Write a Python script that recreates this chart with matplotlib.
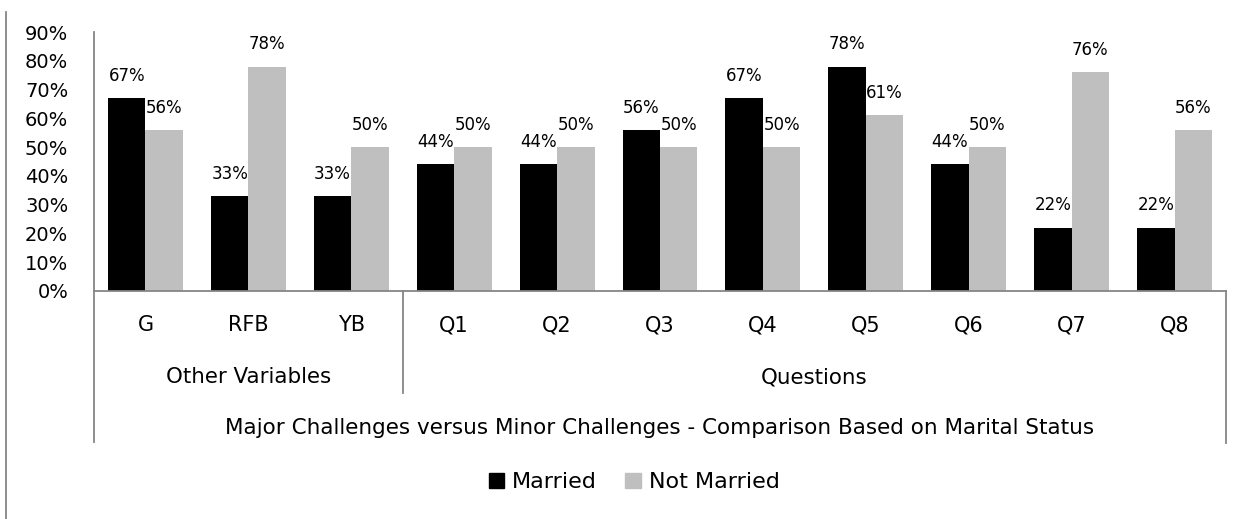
import numpy as np
import matplotlib
matplotlib.use('Agg')
import matplotlib.pyplot as plt
from matplotlib.lines import Line2D
from matplotlib.patches import Patch

plt.rcParams['font.family'] = ['DejaVu Sans']

# data
categories = ['G', 'RFB', 'YB', 'Q1', 'Q2', 'Q3', 'Q4', 'Q5', 'Q6', 'Q7', 'Q8']
groups = ['Other Variables', 'Questions']
group_sizes = [3, 8]
married = [67, 33, 33, 44, 44, 56, 67, 78, 44, 22, 22]
not_married = [56, 78, 50, 50, 50, 50, 50, 61, 50, 76, 56]
y_ticks = [0, 10, 20, 30, 40, 50, 60, 70, 80, 90]
axis_title = 'Major Challenges versus Minor Challenges - Comparison Based on Marital Status'

W, H = 1243, 519
fig = plt.figure(figsize=(W / 100, H / 100), dpi=100)
ax = fig.add_axes([94 / W, (H - 291) / H, 1132 / W, 259 / H])

x = np.arange(len(categories))
bw = 0.364
ax.bar(x - bw / 2, married, bw, color='black', label='Married')
ax.bar(x + bw / 2, not_married, bw, color='#bfbfbf', label='Not Married')

for xi, m, n in zip(x, married, not_married):
    ax.annotate(f'{m}%', (xi - bw / 2, m), xytext=(0, 16), textcoords='offset points',
                ha='center', va='center', fontsize=12)
    ax.annotate(f'{n}%', (xi + bw / 2, n), xytext=(0, 16), textcoords='offset points',
                ha='center', va='center', fontsize=12)

ax.set_xlim(-0.5, len(categories) - 0.5)
ax.set_ylim(0, 90)
ax.set_yticks(y_ticks)
ax.set_yticklabels([f'{t}%' for t in y_ticks], fontsize=14)
ax.tick_params(axis='y', length=0, pad=18.5)
ax.set_xticks([])
for s in ['top', 'right']:
    ax.spines[s].set_visible(False)
for s in ['left', 'bottom']:
    ax.spines[s].set_color('#868686')
    ax.spines[s].set_linewidth(1.3)

# multi-level category axis
tr = ax.get_xaxis_transform()
def yax(py):
    return (291 - py) / 259

for xi, c in zip(x, categories):
    ax.text(xi, yax(325), c, transform=tr, ha='center', va='center', fontsize=15)

start = 0
for g, n in zip(groups, group_sizes):
    mid = start + (n - 1) / 2
    ax.text(mid, yax(377), g, transform=tr, ha='center', va='center', fontsize=15.4)
    start += n

lc = '#868686'
ax.add_line(Line2D([-0.5, -0.5], [0, yax(442)], transform=tr, color=lc, lw=1.3, clip_on=False))
ax.add_line(Line2D([2.5, 2.5], [0, yax(393)], transform=tr, color=lc, lw=1.3, clip_on=False))
ax.add_line(Line2D([10.5, 10.5], [0, yax(443)], transform=tr, color=lc, lw=1.3, clip_on=False))
ax.text(5, yax(428), axis_title, transform=tr, ha='center', va='center', fontsize=15.5)

# outer chart border (left edge only visible)
fig.add_artist(Line2D([6 / W, 6 / W], [0, 1 - 12 / H], transform=fig.transFigure, color='#868686', lw=1.3))

handles = [Patch(color='black'), Patch(color='#bfbfbf')]
fig.legend(handles, ['Married', 'Not Married'], loc='center', bbox_to_anchor=(634 / W, 1 - 482 / H),
           ncol=2, frameon=False, fontsize=16, handlelength=0.68, handleheight=0.68,
           handletextpad=0.36, columnspacing=1.3, borderpad=0, borderaxespad=0)

fig.savefig('out.png', dpi=100)
